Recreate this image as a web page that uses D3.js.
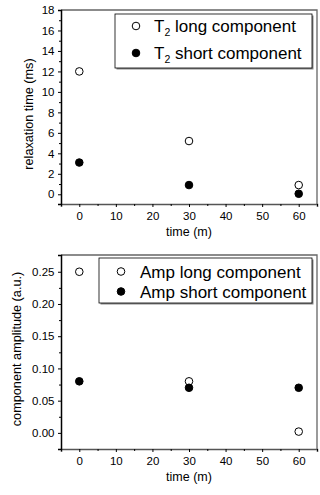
<!DOCTYPE html>
<html>
<head>
<meta charset="utf-8">
<script src="https://cdn.jsdelivr.net/npm/d3@7"></script>
<style>
  body { margin: 0; background: #fff; }
  svg { display: block; font-family: "Liberation Sans", Arial, sans-serif; }
</style>
</head>
<body>
<div id="chart"></div>
<script>
const width = 320;
const height = 495;

// data
const times = [0, 30, 60];
const t2Long = [12, 5.2, 0.9];
const t2Short = [3.1, 0.9, 0.05];
const ampLong = [0.25, 0.08, 0.002];
const ampShort = [0.08, 0.07, 0.07];

const xTicks = [0, 10, 20, 30, 40, 50, 60];
const t2Ticks = [0, 2, 4, 6, 8, 10, 12, 14, 16, 18];
const ampTicks = [0, 0.05, 0.10, 0.15, 0.20, 0.25];

const svg = d3.select("#chart")
  .append("svg")
  .attr("width", width)
  .attr("height", height);

function panel(opts) {
  const x = d3.scaleLinear().domain([-5, 65]).range([61, 317]);
  const y = d3.scaleLinear().domain(opts.yDomain).range([opts.bottom, opts.top]);
  const g = svg.append("g");

  // frame top/right
  g.append("path")
    .attr("d", `M61,${opts.top}H317V${opts.bottom}`)
    .attr("fill", "none")
    .attr("stroke", "#666")
    .attr("stroke-width", 1.3);

  // x axis
  const xAxis = g.append("g")
    .attr("transform", `translate(0,${opts.bottom})`)
    .call(d3.axisBottom(x).tickValues(xTicks).tickSize(3).tickPadding(5).tickFormat(d3.format("d")));
  g.append("g")
    .attr("transform", `translate(0,${opts.bottom})`)
    .call(d3.axisBottom(x).tickValues(d3.range(-5, 66, 10)).tickSize(2).tickFormat(""))
    .select(".domain").remove();

  // y axis
  const yAxis = g.append("g")
    .attr("transform", "translate(61,0)")
    .call(d3.axisLeft(y).tickValues(opts.yTicks).tickSize(3).tickPadding(3.5).tickFormat(opts.fmt));
  g.append("g")
    .attr("transform", "translate(61,0)")
    .call(d3.axisLeft(y).tickValues(opts.minor).tickSize(2).tickFormat(""))
    .select(".domain").remove();

  g.selectAll(".tick text").attr("font-size", 11.5).attr("fill", "#000").style("font-family", "Liberation Sans, Arial, sans-serif");
  xAxis.select(".domain").attr("stroke", "#555").attr("stroke-width", 1.5);
  yAxis.select(".domain").attr("stroke", "#000").attr("stroke-width", 1.5);
  g.selectAll(".tick line").attr("stroke", "#000");

  // axis titles
  g.append("text")
    .attr("x", 189)
    .attr("y", opts.bottom + 32)
    .attr("text-anchor", "middle")
    .attr("font-size", 12.5)
    .text("time (m)");
  g.append("text")
    .attr("transform", `translate(${opts.titleX},${opts.titleY}) rotate(-90)`)
    .attr("text-anchor", "middle")
    .attr("font-size", 12.7)
    .text(opts.yLabel);

  // legend
  const lg = opts.legend;
  g.append("rect")
    .attr("x", lg.x + 1.5).attr("y", lg.y + 1.5)
    .attr("width", lg.w).attr("height", lg.h)
    .attr("fill", "#888");
  g.append("rect")
    .attr("x", lg.x).attr("y", lg.y)
    .attr("width", lg.w).attr("height", lg.h)
    .attr("fill", "#fff")
    .attr("stroke", "#000")
    .attr("stroke-width", 0.8);

  lg.items.forEach((it, i) => {
    const cy = lg.y + lg.first + i * lg.step;
    g.append("circle")
      .attr("cx", lg.x + lg.markX).attr("cy", cy).attr("r", 3.8)
      .attr("fill", it.filled ? "#000" : "#fff")
      .attr("stroke", "#000").attr("stroke-width", 1);
    const t = g.append("text")
      .attr("x", lg.x + lg.textX).attr("y", cy + 6)
      .attr("font-size", 17);
    t.append("tspan").text(it.pre);
    if (it.sub) {
      t.append("tspan").attr("font-size", 10.5).attr("dy", 4).text(it.sub);
      t.append("tspan").attr("dy", -4).text(it.post);
    }
  });

  // points
  opts.series.forEach(s => {
    g.selectAll(null)
      .data(times.map((t, i) => [t, s.values[i]]))
      .join("circle")
      .attr("cx", d => x(d[0]))
      .attr("cy", d => y(d[1]))
      .attr("r", 3.8)
      .attr("fill", s.filled ? "#000" : "#fff")
      .attr("stroke", "#000")
      .attr("stroke-width", 1);
  });
}

panel({
  top: 10, bottom: 204,
  yDomain: [-0.95, 18],
  yTicks: t2Ticks,
  minor: d3.range(1, 18, 2),
  fmt: d3.format("d"),
  yLabel: "relaxation time (ms)",
  titleX: 33, titleY: 114,
  series: [{ values: t2Long, filled: false }, { values: t2Short, filled: true }],
  legend: {
    x: 115, y: 14, w: 197, h: 54, markX: 21, textX: 39, first: 12, step: 27,
    items: [
      { pre: "T", sub: "2", post: " long component", filled: false },
      { pre: "T", sub: "2", post: " short component", filled: true }
    ]
  }
});

panel({
  top: 255, bottom: 449,
  yDomain: [-0.025, 0.276],
  yTicks: ampTicks,
  minor: d3.range(0.025, 0.27, 0.05),
  fmt: d3.format(".2f"),
  yLabel: "component amplitude (a.u.)",
  titleX: 21, titleY: 349,
  series: [{ values: ampLong, filled: false }, { values: ampShort, filled: true }],
  legend: {
    x: 99, y: 258, w: 213, h: 45, markX: 22, textX: 41, first: 13.5, step: 20,
    items: [
      { pre: "Amp long component", filled: false },
      { pre: "Amp short component", filled: true }
    ]
  }
});
</script>
</body>
</html>
